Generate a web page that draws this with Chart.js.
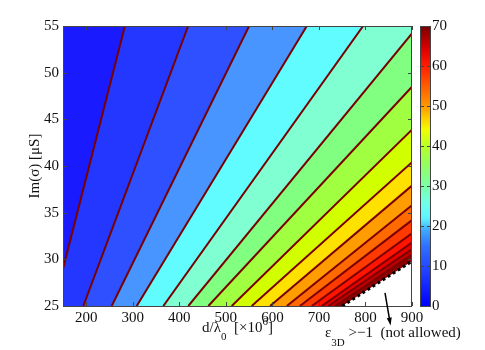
<!DOCTYPE html>
<html>
<head>
<meta charset="utf-8">
<script src="https://cdn.jsdelivr.net/npm/chart.js@4.4.1/dist/chart.umd.min.js"></script>
<style>
  html, body { margin: 0; padding: 0; background: #fff; }
  #wrap { position: relative; width: 485px; height: 350px; }
  #main { position: absolute; left: 0; top: 0; }
  #cbar { position: absolute; left: 414px; top: 0; }
</style>
</head>
<body>
<div id="wrap">
  <canvas id="main" width="485" height="350"></canvas>
  <canvas id="cbar" width="71" height="350"></canvas>
</div>
<script>
// contour levels and where each level line meets the plot frame
// x = d/lambda0 [x10^6], y = Im(sigma) [uS]
const levels = [5, 10, 15, 20, 25, 30, 35, 40, 45, 50, 55, 60, 65, 70, 75, 80];
const upperX = [283, 419, 550, 674, 795, 900, 900, 900, 900, 900, 900, 900, 900, 900, 900, 900];
const upperY = [55, 55, 55, 55, 55, 54.2, 48.5, 43.9, 40.4, 37.9, 35.8, 34.2, 32.8, 31.8, 31.1, 30.5];
const lowerX = [150, 193.6, 254.7, 308.4, 365.6, 419.3, 462.3, 512.6, 555.5, 595, 631, 659, 684.5, 706, 720, 735];
const lowerY = [29.0, 25, 25, 25, 25, 25, 25, 25, 25, 25, 25, 25, 25, 25, 25, 25];

// eps_3D > -1 limit (beyond it: not allowed)
const limitX = [750, 900];
const limitY = [25, 29.8];

// annotation arrow (start inside the plot, tip below the axis)
const arrowX = [842, 854];
const arrowY = [26.4, 22.9];

const xRange = [150, 900];
const yRange = [25, 55];
const xTicks = [200, 300, 400, 500, 600, 700, 800, 900];
const yTicks = [25, 30, 35, 40, 45, 50, 55];
const cbarRange = [0, 70];
const cbarTicks = [0, 10, 20, 30, 40, 50, 60, 70];

// styles
const bandColors = ['#1a1aff', '#2337ff', '#2e50ff', '#4895ff', '#60fcff', '#80ffd2', '#80ff80', '#a0ff40',
  '#d2ff00', '#ffe100', '#ff9c00', '#ff6a00', '#ff3a00', '#ff1400', '#e60000', '#bb0000', '#8c0000'];
const cbarStops = [[0, '#0000ff'], [8, '#1e3cff'], [15, '#3070ff'], [19, '#40a8ff'], [22, '#5ff5ff'],
  [26, '#70ffe6'], [31, '#80ff9a'], [36, '#98ff58'], [40, '#b8ff28'], [44, '#f0ff00'], [47, '#ffcc00'],
  [50, '#ff9800'], [55, '#ff5c00'], [60, '#ff1e00'], [64, '#e00000'], [70, '#780000']];
const lineColor = '#7a0000';
const serif = '"Liberation Serif", "Times New Roman", serif';
const textColor = '#111';

Chart.defaults.font.family = serif;
Chart.defaults.font.size = 15;
Chart.defaults.color = textColor;

// region to the right of / below a frame-to-frame line
function rightOf(x1, y1, x2, y2) {
    const pts = [{ x: x1, y: y1 }];
    if (y1 >= yRange[1]) pts.push({ x: xRange[1], y: yRange[1] });
    pts.push({ x: xRange[1], y: yRange[0] });
    if (x2 <= xRange[0]) pts.push({ x: xRange[0], y: yRange[0] });
    pts.push({ x: x2, y: y2 });
    return pts;
}

function area(data, color, order) {
    return {
        data, order,
        showLine: true, fill: 'shape', tension: 0,
        backgroundColor: color, borderColor: 'transparent', borderWidth: 0, pointRadius: 0,
    };
}

const datasets = [];
datasets.push(area([
    { x: xRange[0], y: yRange[1] }, { x: xRange[1], y: yRange[1] },
    { x: xRange[1], y: yRange[0] }, { x: xRange[0], y: yRange[0] },
], bandColors[0], 1000));
levels.forEach((lv, i) => {
    datasets.push(area(rightOf(upperX[i], upperY[i], lowerX[i], lowerY[i]), bandColors[i + 1], 900 - i));
});
datasets.push(area(rightOf(limitX[1], limitY[1], limitX[0], limitY[0]), '#ffffff', 500));
levels.forEach((lv, i) => {
    datasets.push({
        label: 'level ' + lv,
        data: [{ x: upperX[i], y: upperY[i] }, { x: lowerX[i], y: lowerY[i] }],
        showLine: true, fill: false, tension: 0, order: 10,
        borderColor: lineColor, borderWidth: 2, pointRadius: 0,
    });
});
datasets.push({
    label: 'limit',
    data: [{ x: limitX[0], y: limitY[0] }, { x: limitX[1], y: limitY[1] }],
    showLine: true, fill: false, tension: 0, order: 5,
    borderColor: '#000', borderWidth: 3, borderDash: [3, 3], pointRadius: 0,
});

// box around the plot area with small inward tick marks
function framePlugin(id, tickAxes) {
    return {
        id,
        afterDatasetsDraw(chart) {
            const { ctx, chartArea: a } = chart;
            ctx.save();
            ctx.strokeStyle = '#444';
            ctx.lineWidth = 1;
            ctx.strokeRect(Math.round(a.left) + 0.5, Math.round(a.top) + 0.5,
                Math.round(a.right - a.left) - 1, Math.round(a.bottom - a.top));
            tickAxes.forEach(([axis, ticks]) => {
                const s = chart.scales[axis];
                ticks.forEach(v => {
                    const p = Math.round(s.getPixelForValue(v)) + 0.5;
                    ctx.beginPath();
                    if (s.isHorizontal()) {
                        ctx.moveTo(p, a.bottom); ctx.lineTo(p, a.bottom - 4);
                        ctx.moveTo(p, a.top); ctx.lineTo(p, a.top + 4);
                    } else {
                        ctx.moveTo(a.left, p); ctx.lineTo(a.left + 4, p);
                        ctx.moveTo(a.right, p); ctx.lineTo(a.right - 4, p);
                    }
                    ctx.stroke();
                });
            });
            ctx.restore();
        },
    };
}

function drawRuns(ctx, x, y, runs) {
    runs.forEach(r => {
        ctx.font = r.size + 'px ' + serif;
        ctx.fillText(r.text, x, y + r.dy);
        x += ctx.measureText(r.text).width;
    });
}

function runsWidth(ctx, runs) {
    let w = 0;
    runs.forEach(r => {
        ctx.font = r.size + 'px ' + serif;
        w += ctx.measureText(r.text).width;
    });
    return w;
}

const labelsPlugin = {
    id: 'labels',
    afterDraw(chart) {
        const { ctx, chartArea: a, scales: { x, y } } = chart;
        ctx.save();
        ctx.fillStyle = textColor;
        ctx.textBaseline = 'alphabetic';
        ctx.textAlign = 'left';

        const xTitle = [
            { text: 'd/λ', size: 15, dy: 0 },
            { text: '0', size: 11, dy: 8 },
            { text: '  [×10', size: 15, dy: 0 },
            { text: '6', size: 11, dy: -6.5 },
            { text: ']', size: 15, dy: 0 },
        ];
        const w = runsWidth(ctx, xTitle);
        drawRuns(ctx, (a.left + a.right) / 2 - w / 2, a.bottom + 25.5, xTitle);

        drawRuns(ctx, a.right - 87, a.bottom + 31, [
            { text: 'ε', size: 15, dy: 0 },
            { text: '3D', size: 11, dy: 9 },
            { text: ' >−1  (not allowed)', size: 15, dy: 0 },
        ]);

        const x0 = x.getPixelForValue(arrowX[0]), y0 = y.getPixelForValue(arrowY[0]);
        const x1 = x.getPixelForValue(arrowX[1]), y1 = y.getPixelForValue(arrowY[1]);
        const ang = Math.atan2(y1 - y0, x1 - x0);
        ctx.strokeStyle = '#000';
        ctx.fillStyle = '#000';
        ctx.lineWidth = 1.5;
        ctx.beginPath();
        ctx.moveTo(x0, y0);
        ctx.lineTo(x1 - 6 * Math.cos(ang), y1 - 6 * Math.sin(ang));
        ctx.stroke();
        ctx.beginPath();
        ctx.moveTo(x1, y1);
        ctx.lineTo(x1 - 8 * Math.cos(ang) + 2.5 * Math.sin(ang), y1 - 8 * Math.sin(ang) - 2.5 * Math.cos(ang));
        ctx.lineTo(x1 - 8 * Math.cos(ang) - 2.5 * Math.sin(ang), y1 - 8 * Math.sin(ang) + 2.5 * Math.cos(ang));
        ctx.closePath();
        ctx.fill();
        ctx.restore();
    },
};

new Chart(document.getElementById('main'), {
    type: 'scatter',
    data: { datasets },
    options: {
        responsive: false,
        animation: false,
        events: [],
        layout: { padding: { left: 0, top: 26, right: 73, bottom: 0 } },
        plugins: { legend: { display: false }, tooltip: { enabled: false } },
        scales: {
            x: {
                type: 'linear', min: xRange[0], max: xRange[1],
                afterBuildTicks: s => { s.ticks = xTicks.map(v => ({ value: v })); },
                afterFit: s => { s.height = 44; },
                grid: { display: false, drawTicks: false }, border: { display: false },
                ticks: { padding: 3, autoSkip: false, maxRotation: 0 },
            },
            y: {
                type: 'linear', min: yRange[0], max: yRange[1],
                afterBuildTicks: s => { s.ticks = yTicks.map(v => ({ value: v })); },
                afterFit: s => { s.width = 63; },
                grid: { display: false, drawTicks: false }, border: { display: false },
                ticks: { padding: 4, autoSkip: false },
                title: { display: true, text: 'Im(σ) [μS]', padding: { top: 26, bottom: 0 } },
            },
        },
    },
    plugins: [framePlugin('frame', [['x', xTicks], ['y', yTicks]]), labelsPlugin],
});

new Chart(document.getElementById('cbar'), {
    type: 'bar',
    data: {
        labels: [''],
        datasets: [{
            data: [cbarRange],
            backgroundColor: c => {
                const { ctx, chartArea } = c.chart;
                if (!chartArea) return '#888';
                const g = ctx.createLinearGradient(0, chartArea.bottom, 0, chartArea.top);
                cbarStops.forEach(([v, col]) => g.addColorStop((v - cbarRange[0]) / (cbarRange[1] - cbarRange[0]), col));
                return g;
            },
            barPercentage: 1, categoryPercentage: 1, borderWidth: 0,
        }],
    },
    options: {
        responsive: false,
        animation: false,
        events: [],
        layout: { padding: { left: 6, top: 26, right: 0, bottom: 44 } },
        plugins: { legend: { display: false }, tooltip: { enabled: false } },
        scales: {
            x: { display: false },
            y: {
                position: 'right', min: cbarRange[0], max: cbarRange[1],
                afterBuildTicks: s => { s.ticks = cbarTicks.map(v => ({ value: v })); },
                afterFit: s => { s.width = 54; },
                grid: { display: false, drawTicks: false }, border: { display: false },
                ticks: { padding: 1, autoSkip: false },
            },
        },
    },
    plugins: [framePlugin('cframe', [['y', cbarTicks]])],
});
</script>
</body>
</html>
